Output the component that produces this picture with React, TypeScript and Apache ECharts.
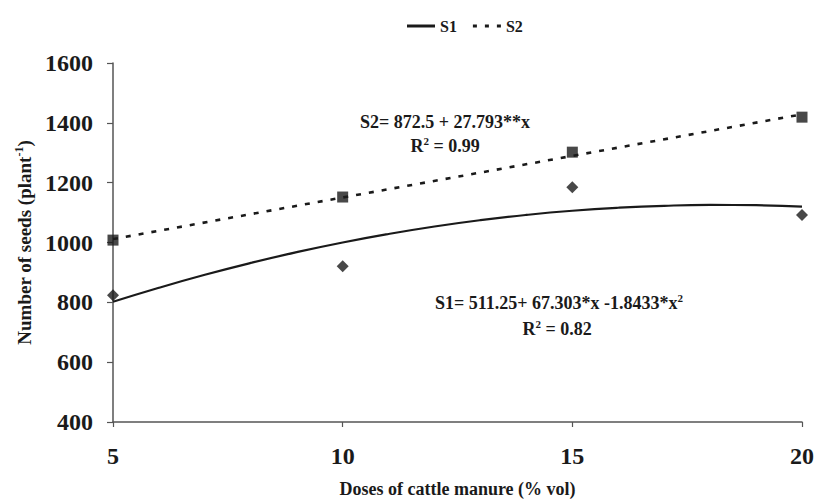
import React, { useEffect, useRef } from "react";
import * as echarts from "echarts";

// Doses of cattle manure (% vol)
const doses = [5, 10, 15, 20];
// Observed number of seeds per plant
const s1Observed = [824, 921, 1185, 1092];
const s2Observed = [1008, 1152, 1302, 1419];
// Fitted trend values (one per dose unit)
const s1TrendX = [5, 6, 7, 8, 9, 10, 11, 12, 13, 14, 15, 16, 17, 18, 19, 20];
const s1TrendY = [
  801.7, 848.7, 892.1, 931.7, 967.7, 1000.0, 1028.5, 1053.5, 1074.7, 1092.2, 1106.1, 1116.2, 1122.7,
  1125.5, 1124.6, 1120.0,
];
const s2TrendX = [5, 10, 15, 20];
const s2TrendY = [1011.5, 1150.4, 1289.4, 1428.4];
// Axis ticks
const xTicks = { min: 5, max: 20, interval: 5 };
const yTicks = { min: 400, max: 1600, interval: 200 };

const FONT = "'Liberation Serif', 'Times New Roman', serif";
const INK = "#1a1a1a";
const AXIS = "#555555";

export default function App() {
  const ref = useRef<HTMLDivElement>(null);
  useEffect(() => {
    if (!ref.current) return;
    document.body.style.margin = "0";
    document.body.style.overflow = "hidden";
    const chart = echarts.init(ref.current, undefined, { renderer: "svg", width: 817, height: 504 });
    const sup = { fontSize: 11, fontWeight: "bold", fontFamily: FONT, color: INK, padding: [0, 0, 10, 0] };
    const eq = {
      fontFamily: FONT,
      fontWeight: "bold",
      fontSize: 18,
      fill: INK,
      align: "center",
      verticalAlign: "middle",
      rich: { sup },
    };
    chart.setOption({
      animation: false,
      backgroundColor: "#ffffff",
      textStyle: { fontFamily: FONT },
      legend: {
        data: [
          { name: "S1", icon: "path://M0 0H28V3H0Z" },
          { name: "S2", icon: "path://M0 0H4V3H0Z M12 0H16V3H12Z M24 0H28V3H24Z" },
        ],
        left: 402,
        top: 13,
        itemWidth: 28,
        itemHeight: 3,
        itemGap: 16,
        itemStyle: { color: INK },
        textStyle: { fontFamily: FONT, fontWeight: "bold", fontSize: 16, color: INK },
      },
      grid: { left: 113, right: 14, top: 63, bottom: 82, containLabel: false },
      xAxis: {
        type: "value",
        min: xTicks.min,
        max: xTicks.max,
        interval: xTicks.interval,
        name: "Doses of cattle manure (% vol)",
        nameLocation: "middle",
        nameGap: 58,
        nameTextStyle: { fontFamily: FONT, fontWeight: "bold", fontSize: 18, color: INK },
        axisLine: { show: true, lineStyle: { color: AXIS, width: 1.5 } },
        axisTick: { show: true, inside: false, length: 5, lineStyle: { color: AXIS, width: 1.2 } },
        axisLabel: {
          margin: 22,
          fontFamily: FONT,
          fontWeight: "bold",
          fontSize: 24,
          color: INK,
          formatter: (v: number) => String(v),
        },
        splitLine: { show: false },
      },
      yAxis: {
        type: "value",
        min: yTicks.min,
        max: yTicks.max,
        interval: yTicks.interval,
        name: "Number of seeds (plant{sup|-1})",
        nameLocation: "middle",
        nameGap: 78,
        nameTextStyle: {
          fontFamily: FONT,
          fontWeight: "bold",
          fontSize: 19,
          color: INK,
          rich: { sup: { ...sup, fontSize: 12 } },
        },
        axisLine: { show: true, lineStyle: { color: AXIS, width: 1.5 } },
        axisTick: { show: true, inside: false, length: 6, lineStyle: { color: AXIS, width: 1.2 } },
        axisLabel: {
          margin: 20,
          fontFamily: FONT,
          fontWeight: "bold",
          fontSize: 24,
          color: INK,
          formatter: (v: number) => String(v),
        },
        splitLine: { show: false },
      },
      series: [
        {
          name: "S1",
          type: "line",
          data: s1TrendX.map((x, i) => [x, s1TrendY[i]]),
          smooth: true,
          symbol: "none",
          lineStyle: { color: INK, width: 2.2, type: "solid" },
          itemStyle: { color: INK },
          z: 2,
        },
        {
          name: "S2",
          type: "line",
          data: s2TrendX.map((x, i) => [x, s2TrendY[i]]),
          symbol: "none",
          lineStyle: { color: INK, width: 2.6, type: [5, 8] },
          itemStyle: { color: INK },
          z: 2,
        },
        {
          name: "S1 observed",
          type: "scatter",
          data: doses.map((x, i) => [x, s1Observed[i]]),
          symbol: "diamond",
          symbolSize: 12,
          itemStyle: { color: INK },
          z: 3,
        },
        {
          name: "S2 observed",
          type: "scatter",
          data: doses.map((x, i) => [x, s2Observed[i]]),
          symbol: "rect",
          symbolSize: 11,
          itemStyle: { color: INK },
          z: 3,
        },
      ],
      graphic: [
        { type: "text", x: 445, y: 122, style: { ...eq, text: "S2= 872.5 + 27.793**x" } },
        { type: "text", x: 445, y: 146, style: { ...eq, text: "R{sup|2} = 0.99" } },
        {
          type: "text",
          x: 559,
          y: 303,
          style: { ...eq, text: "S1= 511.25+ 67.303*x -1.8433*x{sup|2}" },
        },
        { type: "text", x: 557, y: 329, style: { ...eq, text: "R{sup|2} = 0.82" } },
      ],
    });
    return () => chart.dispose();
  }, []);
  return (
    <div ref={ref} style={{ position: "absolute", left: 0, top: 0, width: 817, height: 504 }} />
  );
}
